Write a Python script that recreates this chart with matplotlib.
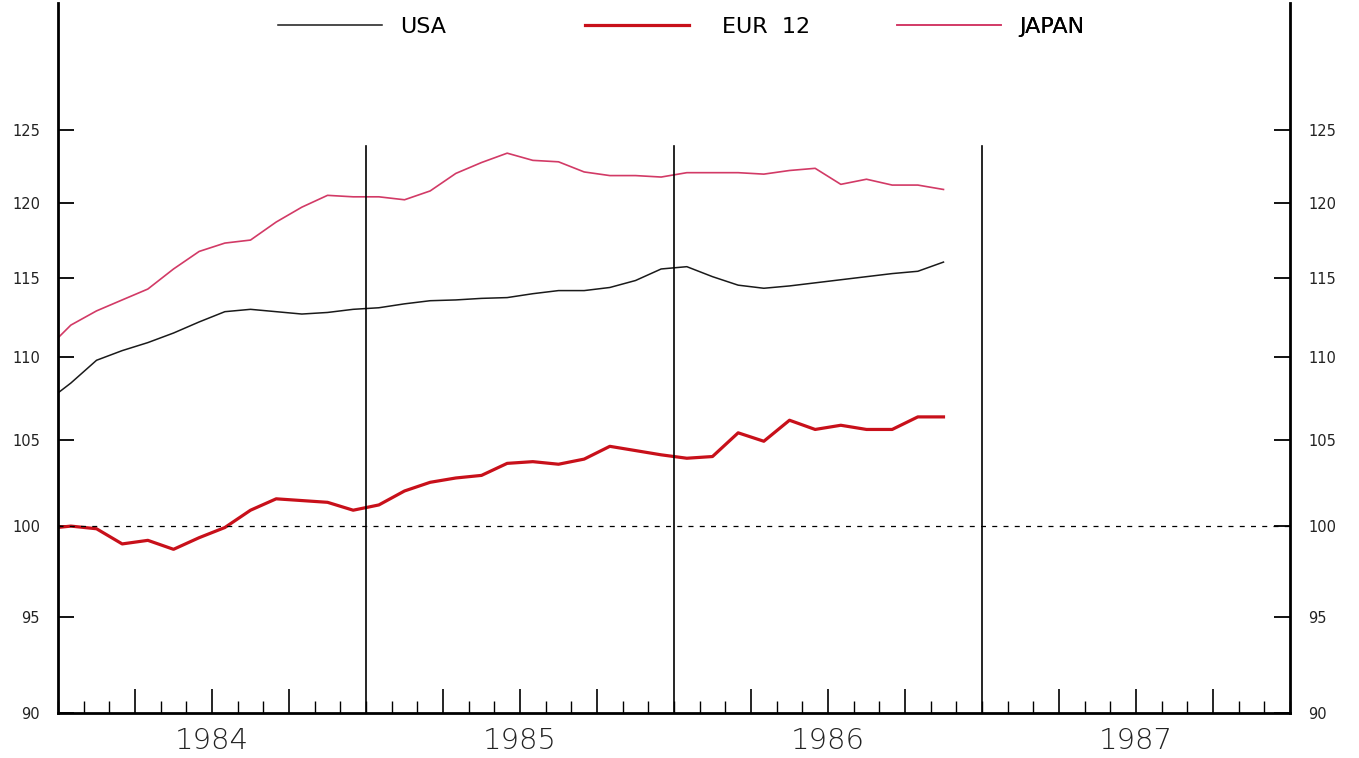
import numpy as np
import matplotlib
matplotlib.use('Agg')
import matplotlib.pyplot as plt
from matplotlib.ticker import FixedLocator, FuncFormatter, NullLocator, MultipleLocator

# monthly index values, Dec 1983 .. Nov 1986 (Dec 1983 falls just left of the axis)
month_pos = np.arange(-1, 35) + 0.5

usa = [107.2, 108.4, 109.8, 110.4, 110.9, 111.5, 112.2, 112.85, 113.0, 112.85, 112.7,
       112.8, 113.0, 113.1, 113.35, 113.55, 113.6, 113.7, 113.75, 114.0, 114.2,
       114.2, 114.4, 114.85, 115.6, 115.75, 115.1, 114.55, 114.35, 114.5, 114.7,
       114.9, 115.1, 115.3, 115.45, 116.05]
eur12 = [99.85, 100.0, 99.85, 99.0, 99.2, 98.7, 99.35, 99.92, 100.9, 101.55, 101.45,
         101.35, 100.9, 101.2, 102.0, 102.5, 102.75, 102.9, 103.6, 103.7, 103.55,
         103.85, 104.6, 104.35, 104.1, 103.9, 104.0, 105.4, 104.9, 106.15, 105.6,
         105.85, 105.6, 105.6, 106.35, 106.35]
japan = [110.4, 112.0, 112.9, 113.6, 114.3, 115.6, 116.75, 117.3, 117.5, 118.7, 119.7,
         120.5, 120.4, 120.4, 120.2, 120.8, 122.0, 122.75, 123.4, 122.9, 122.8,
         122.1, 121.85, 121.85, 121.75, 122.05, 122.05, 122.05, 121.95, 122.2, 122.35,
         121.25, 121.6, 121.2, 121.2, 120.9]

years = ['1984', '1985', '1986', '1987']
y_ticks = [90, 95, 100, 105, 110, 115, 120, 125]

fig = plt.figure(figsize=(13.59, 7.58), dpi=100)
ax = fig.add_axes([0.0427, 0.0594, 0.9065, 0.9366])

l_usa, = ax.plot(month_pos, usa, color='#1a1a1a', lw=1.1)
l_eur, = ax.plot(month_pos, eur12, color='#c8101a', lw=2.3)
l_jap, = ax.plot(month_pos, japan, color='#d23a66', lw=1.2)

ax.axhline(100, color='black', lw=0.9, ls=(0, (4, 5)))
for yr in range(1, 4):
    ax.axvline(12 * yr, ymax=0.798, color='black', lw=1.2)

ax.set_yscale('log')
ax.set_ylim(90, 134.3)
ax.set_xlim(0, 48)
ax.yaxis.set_major_locator(FixedLocator(y_ticks))
ax.yaxis.set_minor_locator(NullLocator())
ax.yaxis.set_major_formatter(FuncFormatter(lambda v, p: '%d' % round(v)))

# quarter ticks carry the year labels at mid-year, month ticks are short
quarters = [q for q in range(3, 48, 3) if q % 12 != 0]
ax.xaxis.set_major_locator(FixedLocator(quarters))
ax.xaxis.set_minor_locator(MultipleLocator(1))
ax.xaxis.set_major_formatter(FuncFormatter(
    lambda v, p: years[int(v) // 12] if int(v) % 12 == 6 else ''))

ax.tick_params(axis='y', which='major', direction='in', length=11.5, width=1.3,
               left=True, right=True, labelleft=True, labelright=True,
               labelsize=10.5, pad=13, labelcolor='#222222')
ax.tick_params(axis='x', which='major', direction='in', length=17, width=1.2,
               labelsize=21, pad=10, labelcolor='#222222')
ax.tick_params(axis='x', which='minor', direction='in', length=8.5, width=1.0)
for lab in ax.get_xticklabels():
    lab.set_fontweight('light')

ax.spines['top'].set_visible(False)
ax.spines['left'].set_linewidth(2.0)
ax.spines['right'].set_linewidth(2.0)
ax.spines['bottom'].set_linewidth(2.0)

for handle, name, xa, pad in [(l_usa, 'USA', 0.1786, 0.8),
                             (l_eur, 'EUR  12', 0.4278, 1.45),
                             (l_jap, 'JAPAN', 0.681, 0.8)]:
    leg = ax.legend(handles=[handle], labels=[name], loc='center left',
                    bbox_to_anchor=(xa, 0.966), frameon=False, fontsize=16,
                    handlelength=4.7, handletextpad=pad, borderpad=0,
                    borderaxespad=0)
    ax.add_artist(leg)

fig.savefig('out.png', dpi=100, facecolor='white')
